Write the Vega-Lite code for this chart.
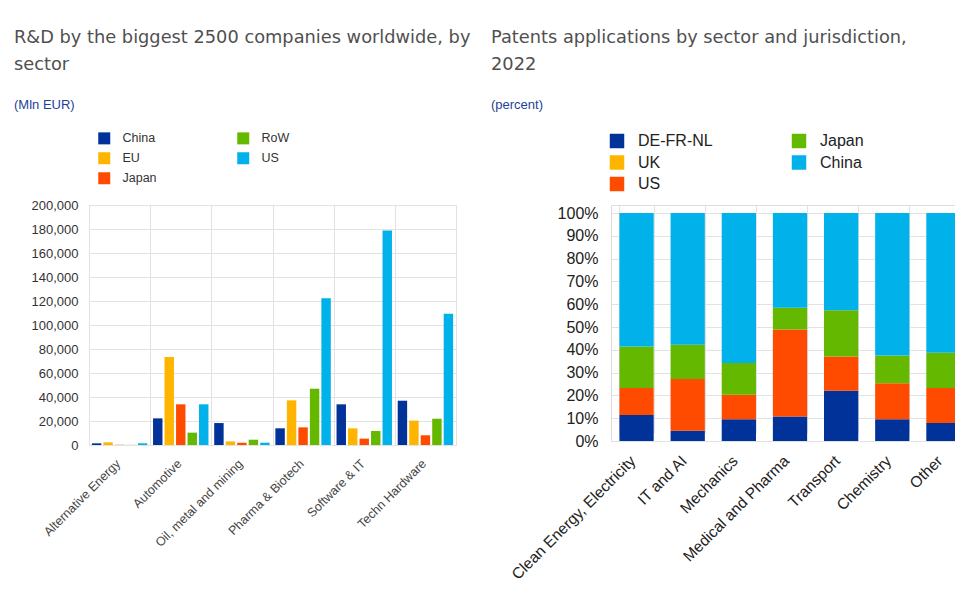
{
  "$schema": "https://vega.github.io/schema/vega-lite/v6.json",
  "background": "white",
  "padding": {"left": 13, "top": 28, "right": 0, "bottom": 0},
  "spacing": 19,
  "resolve": {
    "scale": {"color": "independent", "x": "independent", "y": "independent"},
    "legend": {"color": "independent"},
    "axis": {"x": "independent", "y": "independent"}
  },
  "config": {
    "font": "Liberation Sans",
    "view": {"stroke": "#dddddd"},
    "axis": {"gridColor": "#e2e2e2", "domain": false, "ticks": false},
    "title": {"font": "DejaVu Sans", "subtitleFont": "Liberation Sans"}
  },
  "hconcat": [
    {
      "title": {
        "text": ["R&D by the biggest 2500 companies worldwide, by", "sector"],
        "subtitle": "(Mln EUR)",
        "anchor": "start",
        "frame": "group",
        "dx": -75,
        "fontSize": 17.8,
        "fontWeight": "normal",
        "color": "#505050",
        "lineHeight": 27,
        "subtitleFontSize": 13,
        "subtitleColor": "#1f3f99",
        "subtitlePadding": 25,
        "offset": 20
      },
      "width": 367,
      "height": 240,
      "data": {
        "values": [
          {"sector": "Alternative Energy", "region": "China", "value": 1400},
          {"sector": "Alternative Energy", "region": "EU", "value": 2200},
          {"sector": "Alternative Energy", "region": "Japan", "value": 200},
          {"sector": "Alternative Energy", "region": "RoW", "value": 100},
          {"sector": "Alternative Energy", "region": "US", "value": 1400},
          {"sector": "Automotive", "region": "China", "value": 22200},
          {"sector": "Automotive", "region": "EU", "value": 73300},
          {"sector": "Automotive", "region": "Japan", "value": 33900},
          {"sector": "Automotive", "region": "RoW", "value": 10300},
          {"sector": "Automotive", "region": "US", "value": 33900},
          {"sector": "Oil, metal and mining", "region": "China", "value": 18300},
          {"sector": "Oil, metal and mining", "region": "EU", "value": 3000},
          {"sector": "Oil, metal and mining", "region": "Japan", "value": 1900},
          {"sector": "Oil, metal and mining", "region": "RoW", "value": 4400},
          {"sector": "Oil, metal and mining", "region": "US", "value": 1900},
          {"sector": "Pharma & Biotech", "region": "China", "value": 13900},
          {"sector": "Pharma & Biotech", "region": "EU", "value": 37200},
          {"sector": "Pharma & Biotech", "region": "Japan", "value": 14700},
          {"sector": "Pharma & Biotech", "region": "RoW", "value": 46900},
          {"sector": "Pharma & Biotech", "region": "US", "value": 122200},
          {"sector": "Software & IT", "region": "China", "value": 33900},
          {"sector": "Software & IT", "region": "EU", "value": 13900},
          {"sector": "Software & IT", "region": "Japan", "value": 5300},
          {"sector": "Software & IT", "region": "RoW", "value": 11700},
          {"sector": "Software & IT", "region": "US", "value": 178800},
          {"sector": "Techn Hardware", "region": "China", "value": 36900},
          {"sector": "Techn Hardware", "region": "EU", "value": 20300},
          {"sector": "Techn Hardware", "region": "Japan", "value": 8100},
          {"sector": "Techn Hardware", "region": "RoW", "value": 21900},
          {"sector": "Techn Hardware", "region": "US", "value": 109400}
        ]
      },
      "mark": {"type": "bar"},
      "encoding": {
        "x": {
          "field": "sector",
          "type": "nominal",
          "sort": null,
          "scale": {"paddingInner": 0, "paddingOuter": 0},
          "axis": {
            "title": null,
            "labelAngle": -45,
            "tickBand": "extent",
            "grid": true,
            "labelFontSize": 12.5,
            "labelColor": "#444444",
            "labelPadding": 12,
            "labelOffset": -6
          }
        },
        "xOffset": {
          "field": "region",
          "sort": ["China", "EU", "Japan", "RoW", "US"],
          "scale": {"paddingInner": 0.18, "paddingOuter": 0.25}
        },
        "y": {
          "field": "value",
          "type": "quantitative",
          "scale": {"domain": [0, 200000]},
          "axis": {
            "title": null,
            "values": [0, 20000, 40000, 60000, 80000, 100000, 120000, 140000, 160000, 180000, 200000],
            "labelExpr": "datum.value == 0 ? '0' : (datum.value / 1000) + ',000'",
            "labelFontSize": 13,
            "labelPadding": 11,
            "labelColor": "#333333"
          }
        },
        "color": {
          "field": "region",
          "type": "nominal",
          "scale": {
            "domain": ["China", "EU", "Japan", "RoW", "US"],
            "range": ["#003299", "#ffb400", "#ff4b00", "#65b800", "#00b1ea"]
          },
          "legend": {
            "title": null,
            "orient": "none",
            "legendX": 9,
            "legendY": -73,
            "columns": 2,
            "symbolType": "square",
            "symbolSize": 144,
            "symbolStrokeWidth": 0,
            "symbolOpacity": 1,
            "labelFontSize": 12.5,
            "labelColor": "#333333",
            "labelOffset": 12,
            "columnPadding": 80,
            "rowPadding": 7
          }
        }
      }
    },
    {
      "title": {
        "text": ["Patents applications by sector and jurisdiction,", "2022"],
        "subtitle": "(percent)",
        "anchor": "start",
        "frame": "group",
        "dx": -120,
        "fontSize": 17.8,
        "fontWeight": "normal",
        "color": "#505050",
        "lineHeight": 27,
        "subtitleFontSize": 13,
        "subtitleColor": "#1f3f99",
        "subtitlePadding": 25,
        "offset": 21
      },
      "width": 358,
      "height": 236,
      "data": {
        "values": [
          {"sector": "Clean Energy, Electricity", "jurisdiction": "DE-FR-NL", "share": 11.4},
          {"sector": "Clean Energy, Electricity", "jurisdiction": "UK", "share": 0},
          {"sector": "Clean Energy, Electricity", "jurisdiction": "US", "share": 11.8},
          {"sector": "Clean Energy, Electricity", "jurisdiction": "Japan", "share": 18.3},
          {"sector": "Clean Energy, Electricity", "jurisdiction": "China", "share": 58.5},
          {"sector": "IT and AI", "jurisdiction": "DE-FR-NL", "share": 4.5},
          {"sector": "IT and AI", "jurisdiction": "UK", "share": 0},
          {"sector": "IT and AI", "jurisdiction": "US", "share": 22.7},
          {"sector": "IT and AI", "jurisdiction": "Japan", "share": 15.0},
          {"sector": "IT and AI", "jurisdiction": "China", "share": 57.8},
          {"sector": "Mechanics", "jurisdiction": "DE-FR-NL", "share": 9.5},
          {"sector": "Mechanics", "jurisdiction": "UK", "share": 0},
          {"sector": "Mechanics", "jurisdiction": "US", "share": 10.8},
          {"sector": "Mechanics", "jurisdiction": "Japan", "share": 13.9},
          {"sector": "Mechanics", "jurisdiction": "China", "share": 65.8},
          {"sector": "Medical and Pharma", "jurisdiction": "DE-FR-NL", "share": 10.8},
          {"sector": "Medical and Pharma", "jurisdiction": "UK", "share": 0},
          {"sector": "Medical and Pharma", "jurisdiction": "US", "share": 38.1},
          {"sector": "Medical and Pharma", "jurisdiction": "Japan", "share": 9.5},
          {"sector": "Medical and Pharma", "jurisdiction": "China", "share": 41.6},
          {"sector": "Transport", "jurisdiction": "DE-FR-NL", "share": 22.0},
          {"sector": "Transport", "jurisdiction": "UK", "share": 0},
          {"sector": "Transport", "jurisdiction": "US", "share": 15.1},
          {"sector": "Transport", "jurisdiction": "Japan", "share": 20.3},
          {"sector": "Transport", "jurisdiction": "China", "share": 42.6},
          {"sector": "Chemistry", "jurisdiction": "DE-FR-NL", "share": 9.5},
          {"sector": "Chemistry", "jurisdiction": "UK", "share": 0},
          {"sector": "Chemistry", "jurisdiction": "US", "share": 15.8},
          {"sector": "Chemistry", "jurisdiction": "Japan", "share": 12.2},
          {"sector": "Chemistry", "jurisdiction": "China", "share": 62.5},
          {"sector": "Other", "jurisdiction": "DE-FR-NL", "share": 7.9},
          {"sector": "Other", "jurisdiction": "UK", "share": 0},
          {"sector": "Other", "jurisdiction": "US", "share": 15.3},
          {"sector": "Other", "jurisdiction": "Japan", "share": 15.5},
          {"sector": "Other", "jurisdiction": "China", "share": 61.3}
        ]
      },
      "transform": [
        {"calculate": "indexof(['DE-FR-NL','UK','US','Japan','China'], datum.jurisdiction)", "as": "stackOrder"}
      ],
      "mark": {"type": "bar"},
      "encoding": {
        "x": {
          "field": "sector",
          "type": "nominal",
          "sort": null,
          "scale": {"paddingInner": 0.33, "paddingOuter": 0.165},
          "axis": {
            "title": null,
            "labelAngle": -45,
            "tickBand": "extent",
            "grid": true,
            "labelFontSize": 15.5,
            "labelColor": "#222222",
            "labelPadding": 12,
            "labelOffset": -9
          }
        },
        "y": {
          "field": "share",
          "type": "quantitative",
          "stack": "zero",
          "scale": {"domain": [0, 100], "range": [236, 8]},
          "axis": {
            "title": null,
            "values": [0, 10, 20, 30, 40, 50, 60, 70, 80, 90, 100],
            "labelExpr": "datum.value + '%'",
            "labelFontSize": 16,
            "labelPadding": 13,
            "labelColor": "#222222"
          }
        },
        "color": {
          "field": "jurisdiction",
          "type": "nominal",
          "scale": {
            "domain": ["DE-FR-NL", "UK", "US", "Japan", "China"],
            "range": ["#003299", "#ffb400", "#ff4b00", "#65b800", "#00b1ea"]
          },
          "legend": {
            "title": null,
            "orient": "none",
            "legendX": -2,
            "legendY": -72,
            "columns": 2,
            "symbolType": "square",
            "symbolSize": 210,
            "symbolStrokeWidth": 0,
            "symbolOpacity": 1,
            "labelFontSize": 16,
            "labelColor": "#222222",
            "labelOffset": 13,
            "columnPadding": 78,
            "rowPadding": 5.5
          }
        },
        "order": {"field": "stackOrder", "type": "quantitative", "sort": "ascending"}
      }
    }
  ]
}
